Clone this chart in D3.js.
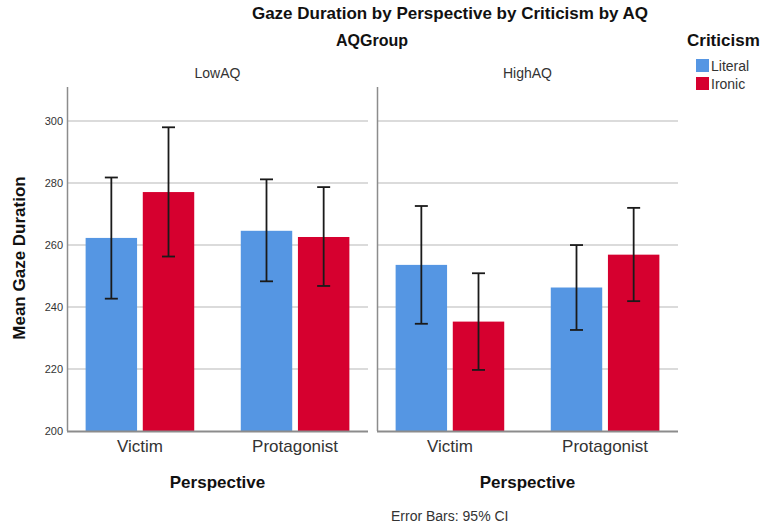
<!DOCTYPE html>
<html>
<head>
<meta charset="utf-8">
<script src="https://cdn.jsdelivr.net/npm/d3@7"></script>
<style>
  html, body { margin: 0; padding: 0; background: #fff; }
  svg { display: block; font-family: "Liberation Sans", Arial, sans-serif; }
</style>
</head>
<body>
<svg id="chart" width="762" height="531"></svg>
<script>
// Mean gaze duration with 95% CI, split by AQ group, perspective and criticism type
const aqGroups = ["LowAQ", "HighAQ"];
const perspectives = ["Victim", "Protagonist"];
const criticisms = ["Literal", "Ironic"];
const yTicks = [200, 220, 240, 260, 280, 300];

// [AQ group][perspective][criticism]
const means = [
  [[262.3, 277.1], [264.6, 262.6]],
  [[253.6, 235.3], [246.3, 256.9]]
];
const ciLow = [
  [[242.7, 256.3], [248.3, 246.8]],
  [[234.6, 219.7], [232.6, 241.9]]
];
const ciHigh = [
  [[281.8, 298.0], [281.2, 278.7]],
  [[272.6, 250.9], [260.0, 272.0]]
];

const colors = { Literal: "#5596e3", Ironic: "#d6002f" };

const svg = d3.select("#chart");
const panelLefts = [67, 377];
const panelWidth = 301;
const plotTop = 87, plotBottom = 431;

const y = d3.scaleLinear().domain([200, 311]).range([plotBottom, plotTop]);

const xPanel = d3.scaleOrdinal().domain(aqGroups).range(panelLefts);

// Titles
svg.append("text").attr("x", 450).attr("y", 19).attr("text-anchor", "middle")
  .attr("font-size", 17).attr("font-weight", "bold").attr("fill", "#111")
  .text("Gaze Duration by Perspective by Criticism by AQ");
svg.append("text").attr("x", 372).attr("y", 46).attr("text-anchor", "middle")
  .attr("font-size", 16).attr("font-weight", "bold").attr("fill", "#111")
  .text("AQGroup");

// Y axis label
svg.append("text")
  .attr("transform", `translate(25,${(plotTop + plotBottom) / 2 - 1}) rotate(-90)`)
  .attr("text-anchor", "middle").attr("font-size", 17).attr("font-weight", "bold")
  .attr("fill", "#111").text("Mean Gaze Duration");

// Y tick labels (left panel only)
svg.append("g").selectAll("text").data(yTicks).join("text")
  .attr("x", 63).attr("y", d => y(d) + 4).attr("text-anchor", "end")
  .attr("font-size", 11).attr("fill", "#333").text(d => d);

aqGroups.forEach((grp, gi) => {
  const x0 = xPanel(grp);
  const g = svg.append("g");

  const x = d3.scaleBand().domain(perspectives)
    .range([x0, x0 + panelWidth]).paddingInner(0.3).paddingOuter(0.12);
  const xSub = d3.scaleBand().domain(criticisms)
    .range([0, x.bandwidth()]).paddingInner(0.1);

  // Gridlines
  g.append("g").selectAll("line").data(yTicks.filter(t => t > 200)).join("line")
    .attr("x1", x0).attr("x2", x0 + panelWidth)
    .attr("y1", d => y(d)).attr("y2", d => y(d))
    .attr("stroke", "#cfcfcf").attr("stroke-width", 1.5);

  // Panel label
  g.append("text").attr("x", x0 + panelWidth / 2).attr("y", 78)
    .attr("text-anchor", "middle").attr("font-size", 14).attr("fill", "#333").text(grp);

  // Bars
  perspectives.forEach((p, pi) => {
    criticisms.forEach((c, ci) => {
      const bx = x(p) + xSub(c);
      g.append("rect")
        .attr("x", bx).attr("width", xSub.bandwidth())
        .attr("y", y(means[gi][pi][ci]))
        .attr("height", y(200) - y(means[gi][pi][ci]))
        .attr("fill", colors[c]);
    });
  });

  // Error bars
  perspectives.forEach((p, pi) => {
    criticisms.forEach((c, ci) => {
      const cx = x(p) + xSub(c) + xSub.bandwidth() / 2;
      const lo = y(ciLow[gi][pi][ci]), hi = y(ciHigh[gi][pi][ci]);
      const eb = g.append("g").attr("stroke", "#1a1a1a").attr("stroke-width", 1.8);
      eb.append("line").attr("x1", cx).attr("x2", cx).attr("y1", lo).attr("y2", hi);
      eb.append("line").attr("x1", cx - 6.5).attr("x2", cx + 6.5).attr("y1", hi).attr("y2", hi);
      eb.append("line").attr("x1", cx - 6.5).attr("x2", cx + 6.5).attr("y1", lo).attr("y2", lo);
    });
  });

  // Axes lines
  g.append("line").attr("x1", x0 + 0.5).attr("x2", x0 + 0.5)
    .attr("y1", plotTop).attr("y2", plotBottom)
    .attr("stroke", "#8c8c8c").attr("stroke-width", 1.5);
  g.append("line").attr("x1", x0).attr("x2", x0 + panelWidth)
    .attr("y1", plotBottom + 0.5).attr("y2", plotBottom + 0.5)
    .attr("stroke", "#8c8c8c").attr("stroke-width", 2);

  // Category labels
  g.append("g").selectAll("text").data(perspectives).join("text")
    .attr("x", d => x(d) + x.bandwidth() / 2).attr("y", 452)
    .attr("text-anchor", "middle").attr("font-size", 17).attr("fill", "#333")
    .text(d => d);

  // X axis title
  g.append("text").attr("x", x0 + panelWidth / 2).attr("y", 488)
    .attr("text-anchor", "middle").attr("font-size", 17).attr("font-weight", "bold")
    .attr("fill", "#111").text("Perspective");
});

// Legend
svg.append("text").attr("x", 687).attr("y", 46).attr("font-size", 17)
  .attr("font-weight", "bold").attr("fill", "#111").text("Criticism");
const leg = svg.append("g").selectAll("g").data(criticisms).join("g")
  .attr("transform", (d, i) => `translate(696,${59 + i * 18})`);
leg.append("rect").attr("width", 13).attr("height", 13).attr("fill", d => colors[d]);
leg.append("text").attr("x", 15).attr("y", 12).attr("font-size", 14)
  .attr("fill", "#333").text(d => d);

// Footnote
svg.append("text").attr("x", 391).attr("y", 521).attr("font-size", 14)
  .attr("fill", "#333").text("Error Bars: 95% CI");
</script>
</body>
</html>
